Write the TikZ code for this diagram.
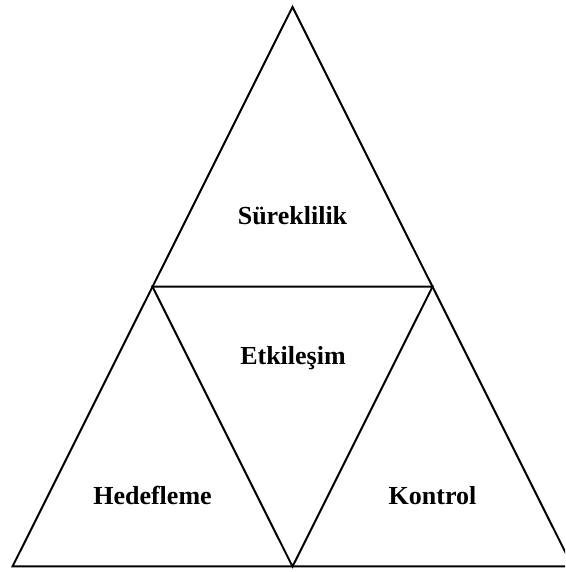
\documentclass[tikz,border=0pt]{standalone}
\usepackage{fontspec}
\setmainfont{Liberation Serif}
\begin{document}
\begin{tikzpicture}[x=1pt,y=1pt,
  edge/.style={line width=2pt,line join=miter},
  lbl/.style={font=\bfseries\fontsize{26}{30}\selectfont,anchor=base,inner sep=0pt}]
\useasboundingbox (0,0) rectangle (565,572);
\begin{scope}
\clip (0,0) rectangle (565,572);
\coordinate (A) at (292.5,565);
\coordinate (L) at (12.5,5.5);
\coordinate (R) at (572.5,5.5);
\coordinate (ML) at (152.5,285.25);
\coordinate (MR) at (432.5,285.25);
\coordinate (MB) at (292.5,5.5);
\draw[edge] (A) -- (L) -- (R) -- cycle;
\draw[edge] (ML) -- (MR) -- (MB) -- cycle;
\end{scope}
\node[lbl] (s) at (292.5,347) {Süreklilik};
\node[lbl] (e) at (293,207) {Etkileşim};
\node[lbl] (h) at (152.5,67) {Hedefleme};
\node[lbl] (k) at (432.5,67) {Kontrol};
\end{tikzpicture}
\end{document}
